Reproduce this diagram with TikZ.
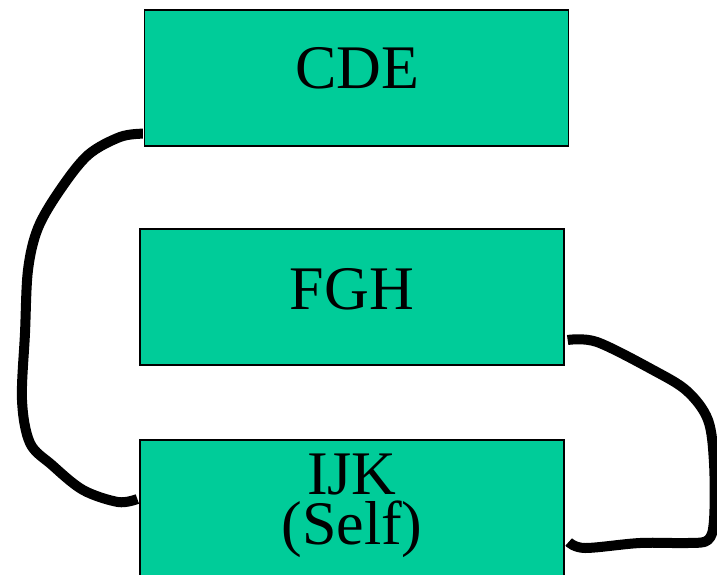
\documentclass[tikz,border=0pt]{standalone}
\usepackage{fontspec}
\setmainfont{Liberation Serif}
\usetikzlibrary{calc}
\definecolor{boxgreen}{HTML}{00CC99}
\tikzset{
  box/.style={draw=black, line width=1.3pt, fill=boxgreen, rectangle,
    minimum width=424pt, minimum height=136pt, inner sep=0pt},
  boxtext/.style={font=\fontsize{62}{50}\selectfont, inner sep=0pt, anchor=base,
    align=center},
  link/.style={draw=black, line width=10pt, line join=round}
}
\begin{document}
\begin{tikzpicture}[x=1pt, y=-1pt]
  \useasboundingbox (0,0) rectangle (717,575);
  % boxes
  \node[box] (cde) at (356.5,78) {};
  \node[box] (fgh) at (352,297) {};
  \node[box] (ijk) at (352,508) {};
  % labels (base anchor sits on the last line)
  \node[boxtext] (cdet) at ($(cde.center)+(0.5,11)$) {CDE};
  \node[boxtext] (fght) at ($(fgh.center)+(0,12)$) {FGH};
  \node[boxtext] (ijkt) at ($(ijk.center)+(0,36)$) {IJK\\(Self)};
  % connector ends on the box edges
  \coordinate (cdeout) at ($(cde.south west)+(-1,-13)$);
  \coordinate (ijkinl) at ($(ijk.west)+(-2,-9)$);
  \coordinate (fghout) at ($(fgh.east)+(3,43)$);
  \coordinate (ijkinr) at ($(ijk.east)+(4,34)$);
  % left connector: CDE to IJK
  \draw[link] plot[smooth, tension=0.55] coordinates {
    (cdeout) (120,137) (88,155) (60,190) (38,228) (28,270) (25,333)
    (22,400) (30,443) (52,465) (83,490) (118,502) (ijkinl)};
  % right connector: FGH to IJK
  \draw[link] plot[smooth, tension=0.55] coordinates {
    (fghout) (597,342) (653,370) (687,391) (708,420) (714,463)
    (714,520) (708,540) (688,543) (640,543) (585,548) (ijkinr)};
\end{tikzpicture}
\end{document}
